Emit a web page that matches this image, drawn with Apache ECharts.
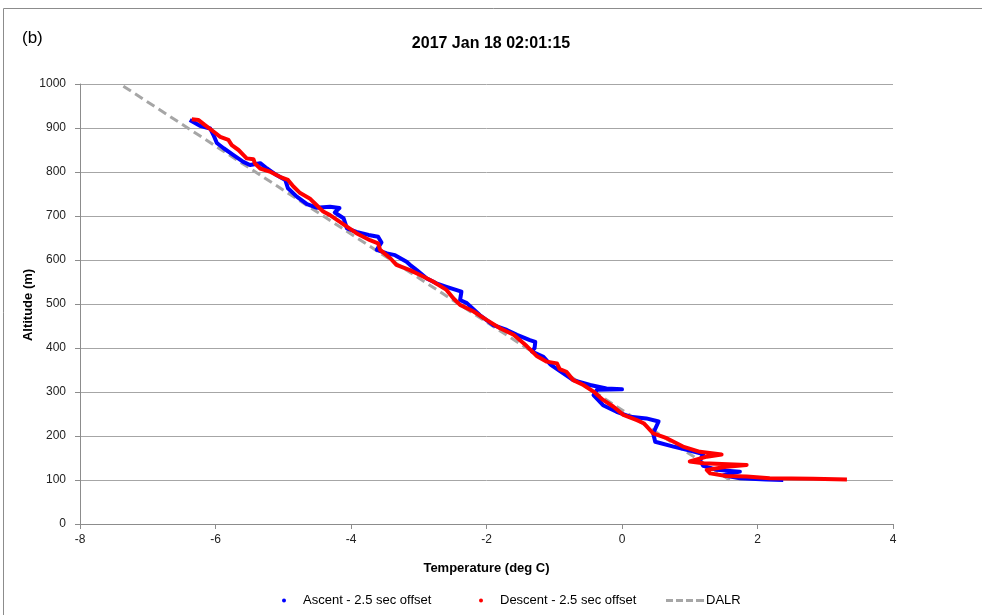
<!DOCTYPE html>
<html>
<head>
<meta charset="utf-8">
<script src="https://cdn.jsdelivr.net/npm/echarts@6/dist/echarts.min.js"></script>
<style>
html,body{margin:0;padding:0;background:#fff;}
#chart{width:982px;height:615px;}
</style>
</head>
<body>
<div id="chart"></div>
<script>
// ---- Data ----
const xTicks = [-8, -6, -4, -2, 0, 2, 4];
const yTicks = [0, 100, 200, 300, 400, 500, 600, 700, 800, 900, 1000];

const ascentTemp = [-6.38,-6.23,-6.08,-6.03,-5.98,-5.88,-5.74,-5.59,-5.49,-5.34,-5.24,-5.10,-4.97,-4.93,-4.80,-4.65,-4.51,-4.31,-4.17,-4.24,-4.11,-4.06,-3.92,-3.74,-3.60,-3.55,-3.62,-3.47,-3.35,-3.18,-3.13,-3.03,-2.88,-2.74,-2.59,-2.37,-2.39,-2.29,-2.10,-1.90,-1.70,-1.55,-1.36,-1.28,-1.29,-1.33,-1.16,-1.06,-0.92,-0.72,-0.47,-0.23,0.00,-0.37,-0.42,-0.28,-0.08,0.12,0.36,0.54,0.46,0.49,0.76,1.00,1.20,1.15,1.20,1.40,1.74,1.50,1.74,2.13,2.38];
const ascentAlt  = [918,905,899,884,866,854,839,823,816,820,808,793,782,763,744,727,719,721,718,708,695,672,664,657,653,640,623,615,611,596,589,577,558,547,539,528,509,502,475,452,441,430,418,414,400,392,380,363,348,327,316,308,306,305,293,270,255,244,240,233,206,187,176,167,159,145,132,123,119,111,104,101,100];

const descentTemp = [-6.35,-6.25,-6.16,-6.03,-5.93,-5.81,-5.76,-5.66,-5.59,-5.54,-5.44,-5.42,-5.34,-5.20,-5.05,-4.93,-4.85,-4.75,-4.61,-4.51,-4.41,-4.31,-4.11,-3.92,-3.72,-3.60,-3.57,-3.42,-3.33,-3.13,-2.98,-2.79,-2.59,-2.49,-2.39,-2.19,-2.00,-1.80,-1.60,-1.41,-1.26,-1.11,-0.96,-0.92,-0.82,-0.72,-0.57,-0.42,-0.28,-0.13,0.02,0.22,0.32,0.46,0.66,0.90,1.15,1.47,1.25,1.00,1.20,1.84,1.54,1.25,1.30,1.54,1.84,2.18,2.82,3.32];
const descentAlt  = [920,918,907,892,880,873,861,850,839,831,829,820,808,801,789,782,767,752,740,725,710,702,681,661,645,638,623,604,589,577,566,551,532,513,498,483,464,445,430,405,382,369,365,352,346,327,316,301,282,267,248,236,229,206,195,176,164,158,153,142,138,134,130,123,115,109,108,104,103,101];

const dalrTemp = [-7.36, 1.59];
const dalrAlt  = [995, 100];

const zip = (xs, ys) => xs.map((x, i) => [x, ys[i]]);

const FONT = "'Liberation Sans', Arial, sans-serif";
const chart = echarts.init(document.getElementById('chart'), null, {renderer: 'canvas'});

chart.setOption({
  animation: false,
  backgroundColor: '#ffffff',
  title: {
    text: '2017 Jan 18 02:01:15',
    left: 'center',
    top: 31,
    textStyle: {fontFamily: FONT, fontSize: 16, fontWeight: 'bold', color: '#000'}
  },
  graphic: [
    {type: 'rect', shape: {x: 3.5, y: 8.5, width: 1100, height: 800}, style: {fill: 'none', stroke: '#8c8c8c', lineWidth: 1}, silent: true},
    {type: 'text', left: 22, top: 30, style: {text: '(b)', fontFamily: FONT, fontSize: 17, fill: '#000'}},
    {type: 'text', x: 28, y: 305, rotation: Math.PI / 2,
     style: {text: 'Altitude (m)', fontFamily: FONT, fontSize: 13, fontWeight: 'bold', fill: '#000', align: 'center', verticalAlign: 'middle'}}
  ],
  grid: {left: 80, right: 89, top: 84, bottom: 91, containLabel: false},
  xAxis: {
    type: 'value', min: xTicks[0], max: xTicks[xTicks.length - 1], interval: 2,
    name: 'Temperature (deg C)', nameLocation: 'middle', nameGap: 38,
    nameTextStyle: {fontFamily: FONT, fontSize: 13, fontWeight: 'bold', color: '#000'},
    axisLine: {show: true, onZero: false, lineStyle: {color: '#8c8c8c', width: 1}},
    axisTick: {show: true, inside: false, length: 5, lineStyle: {color: '#8c8c8c'}},
    axisLabel: {fontFamily: FONT, fontSize: 12, color: '#222', margin: 10, formatter: v => String(v)},
    splitLine: {show: false}
  },
  yAxis: {
    type: 'value', min: yTicks[0], max: yTicks[yTicks.length - 1], interval: 100,
    axisLine: {show: true, onZero: false, lineStyle: {color: '#8c8c8c', width: 1}},
    axisTick: {show: true, inside: false, length: 5, lineStyle: {color: '#8c8c8c'}},
    axisLabel: {fontFamily: FONT, fontSize: 12, color: '#222', margin: 14, formatter: v => String(v)},
    splitLine: {show: true, lineStyle: {color: '#a6a6a6', width: 1}}
  },
  legend: [
    {
      left: 282, top: 594, itemWidth: 4, itemHeight: 4, padding: 0,
      data: [{name: 'Ascent - 2.5 sec offset', icon: 'circle'}],
      textStyle: {fontFamily: FONT, fontSize: 13, color: '#000', padding: [0, 0, 0, 12]}
    },
    {
      left: 479, top: 594, itemWidth: 4, itemHeight: 4, padding: 0,
      data: [{name: 'Descent - 2.5 sec offset', icon: 'circle'}],
      textStyle: {fontFamily: FONT, fontSize: 13, color: '#000', padding: [0, 0, 0, 12]}
    },
    {
      left: 666, top: 594, itemWidth: 38, itemHeight: 3, padding: 0, itemGap: 0,
      data: [{name: 'DALR', icon: 'path://M0,0h7v3h-7z M10,0h7v3h-7z M20,0h7v3h-7z M30,0h8v3h-8z'}],
      textStyle: {fontFamily: FONT, fontSize: 13, color: '#000', padding: [0, 0, 0, -3]}
    }
  ],
  series: [
    {
      name: 'DALR', type: 'line', z: 1, symbol: 'none', showSymbol: false,
      data: zip(dalrTemp, dalrAlt),
      itemStyle: {color: '#a6a6a6'},
      lineStyle: {color: '#a6a6a6', width: 3, type: [9, 5]}
    },
    {
      name: 'Ascent - 2.5 sec offset', type: 'line', z: 2, symbol: 'none', showSymbol: false,
      data: zip(ascentTemp, ascentAlt),
      itemStyle: {color: '#0000ff'},
      lineStyle: {color: '#0000ff', width: 4, join: 'round'}
    },
    {
      name: 'Descent - 2.5 sec offset', type: 'line', z: 3, symbol: 'none', showSymbol: false,
      data: zip(descentTemp, descentAlt),
      itemStyle: {color: '#ff0000'},
      lineStyle: {color: '#ff0000', width: 4, join: 'round'}
    }
  ]
});
</script>
</body>
</html>
